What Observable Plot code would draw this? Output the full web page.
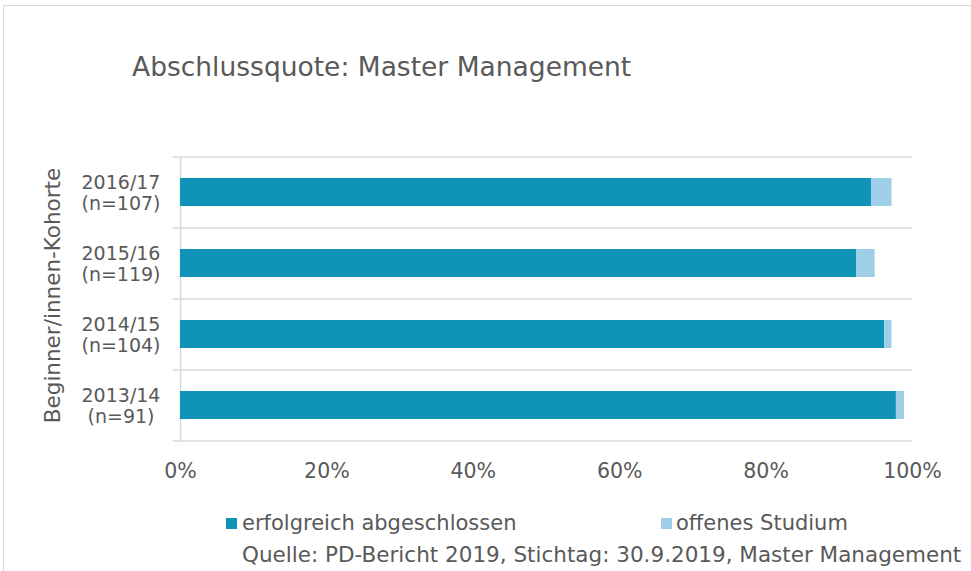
<!DOCTYPE html>
<html>
<head>
<meta charset="utf-8">
<script src="https://cdn.jsdelivr.net/npm/d3@7"></script>
<script src="https://cdn.jsdelivr.net/npm/@observablehq/plot@0.6"></script>
<style>
  html, body { margin: 0; padding: 0; background: #fff; }
  #wrap { position: relative; width: 971px; height: 571px; overflow: hidden; font-family: "DejaVu Sans", Verdana, sans-serif; color: #595959; }
  #frame { position: absolute; left: 3px; top: 5px; width: 1000px; height: 600px; border-left: 1.5px solid #d9d9d9; border-top: 1.5px solid #d9d9d9; box-sizing: border-box; }
  #chart { position: absolute; left: 0; top: 0; }
  .txt { position: absolute; white-space: nowrap; line-height: 1; }
  #title { left: 132px; top: 53.6px; font-size: 26.5px; }
  .sw { position: absolute; width: 11px; height: 11px; }
  .lg { font-size: 21px; top: 512.5px; }
  #caption { left: 242px; top: 544px; font-size: 21.5px; }
</style>
</head>
<body>
<div id="wrap">
  <div id="frame"></div>
  <div id="chart"></div>
  <div id="title" class="txt"></div>
  <div id="legend"></div>
  <div id="caption" class="txt"></div>
</div>
<script>
// ---- data ----
const titleText = "Abschlussquote: Master Management";
const yTitle = "Beginner/innen-Kohorte";
const captionText = "Quelle: PD-Bericht 2019, Stichtag: 30.9.2019, Master Management";
const cohorts = ["2016/17", "2015/16", "2014/15", "2013/14"];
const nValues = [107, 119, 104, 91];
const statuses = ["erfolgreich abgeschlossen", "offenes Studium"];
const erfolgreich = [0.944, 0.924, 0.962, 0.978];
const offen = [0.028, 0.025, 0.010, 0.011];
const xTicks = [0, 0.2, 0.4, 0.6, 0.8, 1.0];
const colors = ["#0f93b6", "#9ecfe6"];

const rows = [];
cohorts.forEach((c, i) => {
  rows.push({cohort: c, status: statuses[0], value: erfolgreich[i]});
  rows.push({cohort: c, status: statuses[1], value: offen[i]});
});

const grid = "#d9d9d9";
const textColor = "#595959";
const lastCohort = cohorts[cohorts.length - 1];

const chart = Plot.plot({
  width: 971,
  height: 571,
  marginLeft: 180,
  marginRight: 59,
  marginTop: 157,
  marginBottom: 130,
  style: {fontFamily: "DejaVu Sans, Verdana, sans-serif", fontSize: "20.5px", color: textColor, background: "transparent", overflow: "visible"},
  x: {domain: [0, 1], axis: null},
  y: {domain: cohorts, paddingInner: 0.6, paddingOuter: 0.3, axis: null},
  color: {domain: statuses, range: colors},
  marks: [
    // category boundary gridlines
    Plot.ruleY(cohorts, {y: d => d, dy: -35.5, x1: -0.01, x2: 1, stroke: grid, strokeWidth: 1.5}),
    Plot.ruleY([lastCohort], {y: d => d, dy: 35.5, x1: -0.01, x2: 1, stroke: grid, strokeWidth: 1.5}),
    Plot.ruleX([0], {stroke: grid, strokeWidth: 1.5}),
    Plot.barX(rows, Plot.stackX({y: "cohort", x: "value", fill: "status", order: statuses})),
    Plot.axisX({ticks: xTicks, tickFormat: d3.format(".0%"), tickSize: 0, tickPadding: 22, label: null, fontSize: 20.5, fill: textColor}),
    Plot.text(cohorts, {
      y: d => d,
      frameAnchor: "left",
      dx: -59.5,
      textAnchor: "middle",
      lineHeight: 1.1,
      fontSize: 19,
      fill: textColor,
      text: (d, i) => `${d}\n(n=${nValues[i]})`
    }),
    Plot.text([yTitle], {
      frameAnchor: "left",
      textAnchor: "middle",
      dx: -127.5,
      dy: -4,
      rotate: -90,
      fontSize: 21.5,
      fill: textColor,
      text: d => d
    })
  ]
});
document.getElementById("chart").appendChild(chart);

document.getElementById("title").textContent = titleText;
document.getElementById("caption").textContent = captionText;

const legendPos = [{sx: 226, tx: 242}, {sx: 661, tx: 676}];
const legend = document.getElementById("legend");
statuses.forEach((s, i) => {
  const sw = document.createElement("div");
  sw.className = "sw";
  sw.style.left = legendPos[i].sx + "px";
  sw.style.top = "518px";
  sw.style.background = colors[i];
  legend.appendChild(sw);
  const t = document.createElement("div");
  t.className = "txt lg";
  t.style.left = legendPos[i].tx + "px";
  t.textContent = s;
  legend.appendChild(t);
});
</script>
</body>
</html>
